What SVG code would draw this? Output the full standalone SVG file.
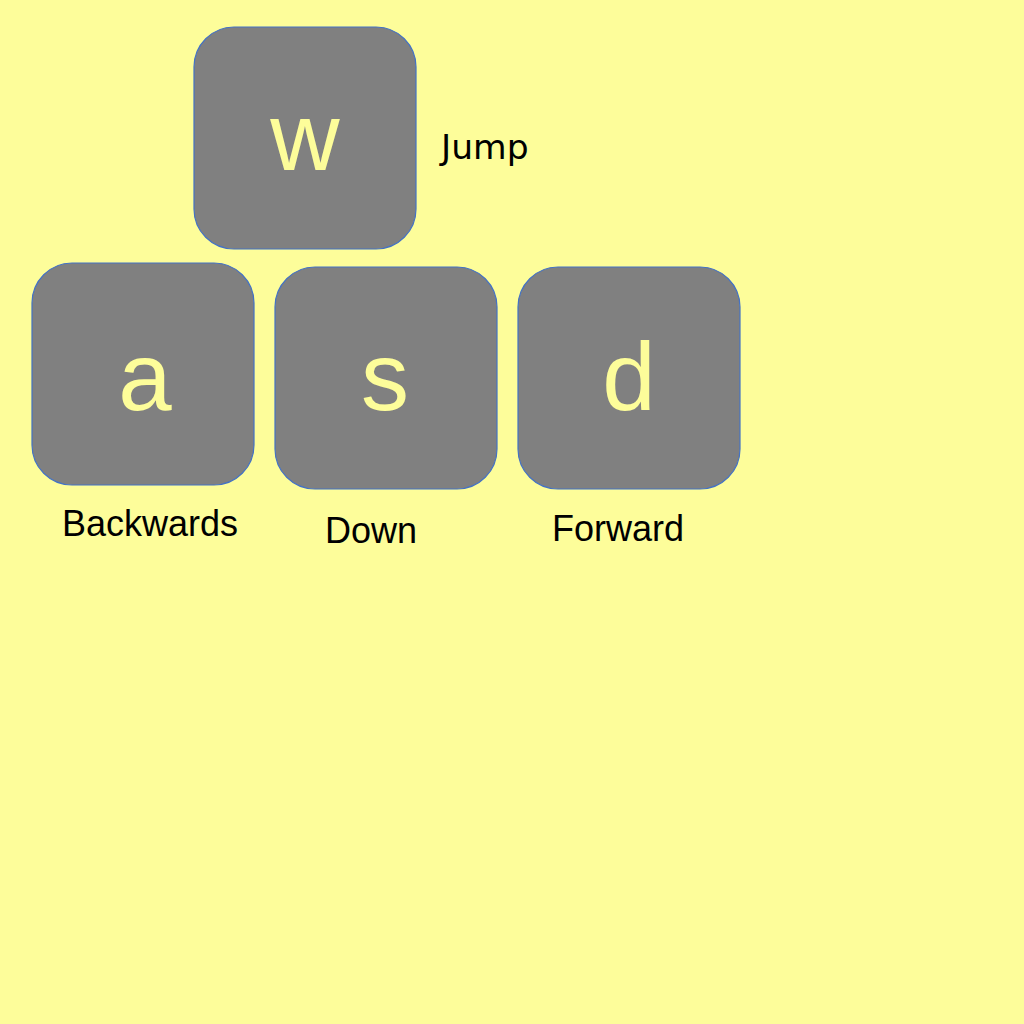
<svg xmlns="http://www.w3.org/2000/svg" width="1024" height="1024" viewBox="0 0 1024 1024">
<style>
.key{fill:#808080;stroke:#4472C4;stroke-width:1.2}
.k{font-family:"Liberation Sans",Arial,sans-serif;font-size:96px;fill:#FDFD9A;text-anchor:middle}
.lbl{font-family:"Liberation Sans",Arial,sans-serif;font-size:36px;fill:#000}
.jl{font-family:"DejaVu Sans",sans-serif;font-size:34.5px;fill:#000}
</style>
<rect width="1024" height="1024" fill="#FDFD9A"/>
<g id="key-w"><rect class="key" x="194" y="27" width="222" height="222" rx="40"/><text class="k" x="305" y="170">w</text></g>
<g id="key-a"><rect class="key" x="32" y="263" width="222" height="222" rx="40"/><text class="k" x="145" y="410">a</text></g>
<g id="key-s"><rect class="key" x="275" y="267" width="222" height="222" rx="40"/><text class="k" x="385" y="410">s</text></g>
<g id="key-d"><rect class="key" x="518" y="267" width="222" height="222" rx="40"/><text class="k" x="629" y="410">d</text></g>
<g id="labels">
<text class="jl" x="441" y="159">Jump</text>
<text class="lbl" x="62" y="536">Backwards</text>
<text class="lbl" x="325" y="543">Down</text>
<text class="lbl" x="552" y="541">Forward</text>
</g>
<g id="connectors"/>
</svg>
